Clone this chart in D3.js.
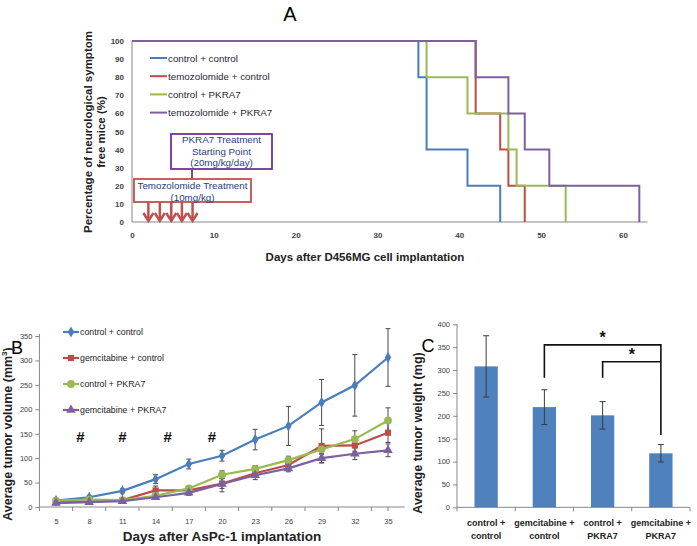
<!DOCTYPE html>
<html><head><meta charset="utf-8">
<script src="https://cdn.jsdelivr.net/npm/d3@7"></script>
<style>body{margin:0;background:#fff} text{font-family:"Liberation Sans",Arial,sans-serif}</style>
</head><body><svg id="c" width="697" height="546"></svg>
<script>
// ---------- Panel A data ----------
const seriesA = ["control + control","temozolomide + control","control + PKRA7","temozolomide + PKRA7"];
const colorsA = ["#4A7EBB","#BE4B48","#98B954","#7D60A0"];
const daysA = [[0,35,36,41,45],[0,42,45,46,48],[0,36,41,46,47,53],[0,42,46,48,51,62]];
const survA = [[100,80,40,20,0],[100,60,40,20,0],[100,80,60,40,20,0],[100,80,60,40,20,0]];
const ticksAx = [0,10,20,30,40,50,60];
const ticksAy = [0,10,20,30,40,50,60,70,80,90,100];
const tmzDays = [2,3.4,4.8,6.1,7.4];

// ---------- Panel B data ----------
const seriesB = ["control + control","gemcitabine + control","control + PKRA7","gemcitabine + PKRA7"];
const colorsB = ["#4A7EBB","#BE4B48","#98B954","#7D60A0"];
const daysB = [5,8,11,14,17,20,23,26,29,32,35];
const volCtrlCtrl = [13,20,33,57,88,105,138,166,214,249,306];
const errCtrlCtrl = [3,3,4,9,10,11,21,40,47,63,59];
const volGemCtrl = [10,13,14,34,34,48,69,86,125,126,152];
const errGemCtrl = [2,2,3,9,6,10,8,9,35,12,20];
const volCtrlPK = [13,15,14,23,38,66,78,96,118,139,177];
const errCtrlPK = [2,2,2,4,5,8,7,8,10,17,26];
const volGemPK = [8,10,12,20,29,47,65,79,100,109,116];
const errGemPK = [2,2,3,4,5,16,9,7,9,12,13];
const ticksBy = [0,50,100,150,200,250,300,350];
const hashDays = [7.2,11,15.1,19.1];

// ---------- Panel C data ----------
const groupsC = [["control +","control"],["gemcitabine +","control"],["control +","PKRA7"],["gemcitabine +","PKRA7"]];
const weightC = [308,219,201,118];
const errC = [67,38,30,19];
const ticksCy = [0,50,100,150,200,250,300,350,400];
const sigBrackets = [{from:1,to:3,top:355,left:283,right:158},{from:2,to:3,top:318,left:283,right:318}];

const svg = d3.select("#c");
const AX = "#878787";

// ================= PANEL A =================
const xA = d3.scaleLinear().domain([0,63]).range([132,647.5]);
const yA = d3.scaleLinear().domain([0,100]).range([222,41]);
const gA = svg.append("g");
gA.append("text").attr("x",290).attr("y",21).attr("text-anchor","middle").attr("font-size",20).text("A");
gA.append("line").attr("x1",xA(0)).attr("x2",xA(0)).attr("y1",yA(0)).attr("y2",yA(100)).attr("stroke",AX);
gA.append("line").attr("x1",xA(0)).attr("x2",xA(63)).attr("y1",yA(0)).attr("y2",yA(0)).attr("stroke",AX);
gA.append("g").attr("transform",`translate(0,${yA(0)})`)
  .call(d3.axisBottom(xA).tickValues(ticksAx).tickSize(0).tickPadding(10))
  .call(g=>{g.select(".domain").remove();g.selectAll("text").attr("font-size",8).attr("font-weight","bold").attr("fill","#404040").attr("font-family","Liberation Sans, Arial");});
gA.append("g").attr("transform",`translate(${xA(0)},0)`)
  .call(d3.axisLeft(yA).tickValues(ticksAy).tickSize(0).tickPadding(8))
  .call(g=>{g.select(".domain").remove();g.selectAll("text").attr("font-size",8).attr("font-weight","bold").attr("fill","#404040").attr("font-family","Liberation Sans, Arial");});
gA.append("text").attr("x",365).attr("y",261).attr("text-anchor","middle").attr("font-size",11.5).attr("font-weight","bold").attr("fill","#222").text("Days after D456MG cell implantation");
const tA = gA.append("text").attr("transform","translate(0,132) rotate(-90)").attr("text-anchor","middle").attr("font-size",11.5).attr("font-weight","bold").attr("fill","#222");
tA.append("tspan").attr("x",0).attr("y",92).text("Percentage of neurological symptom");
tA.append("tspan").attr("x",0).attr("y",105).text("free mice (%)");
const lineA = d3.line().x(d=>xA(d[0])).y(d=>yA(d[1])).curve(d3.curveStepAfter);
seriesA.forEach((s,i)=>{
  const pts = daysA[i].map((d,j)=>[d,survA[i][j]]);
  gA.append("path").attr("d",lineA(pts)).attr("fill","none").attr("stroke",colorsA[i]).attr("stroke-width",2);
});
seriesA.forEach((s,i)=>{
  const y = 58 + i*18.2;
  gA.append("line").attr("x1",150).attr("x2",167).attr("y1",y).attr("y2",y).attr("stroke",colorsA[i]).attr("stroke-width",2);
  gA.append("text").attr("x",168).attr("y",y+3.5).attr("font-size",9.8).attr("fill","#1f1f38").text(s);
});
gA.append("rect").attr("x",171).attr("y",134).attr("width",101).attr("height",35).attr("fill","#fff").attr("stroke","#7030A0").attr("stroke-width",1.8);
gA.append("line").attr("x1",192).attr("x2",192).attr("y1",169).attr("y2",179).attr("stroke","#7030A0").attr("stroke-width",1.8);
[["PKRA7 Treatment",144],["Starting Point",155.5],["(20mg/kg/day)",167]].forEach(([t,y])=>{
  gA.append("text").attr("x",221.5).attr("y",y-1).attr("text-anchor","middle").attr("font-size",9.8).attr("fill","#1F3F7D").text(t);
});
gA.append("rect").attr("x",134).attr("y",179).attr("width",117).attr("height",23).attr("fill","#fff").attr("stroke","#C0504D").attr("stroke-width",1.8);
[["Temozolomide  Treatment",189],["(10mg/kg)",200.5]].forEach(([t,y])=>{
  gA.append("text").attr("x",192.5).attr("y",y).attr("text-anchor","middle").attr("font-size",9.8).attr("fill","#1F3F7D").text(t);
});
tmzDays.forEach(d=>{
  const x = xA(d);
  gA.append("line").attr("x1",x).attr("x2",x).attr("y1",202).attr("y2",220).attr("stroke","#C0504D").attr("stroke-width",2.5);
  gA.append("path").attr("d",`M${x-5},${213}L${x},${221}L${x+5},${213}`).attr("fill","none").attr("stroke","#C0504D").attr("stroke-width",2.5);
});

// ================= PANEL B =================
const xB = d3.scaleLinear().domain([3.5,36.5]).range([39.4,404.6]);
const yB = d3.scaleLinear().domain([0,350]).range([507,336]);
const gB = svg.append("g");
gB.append("text").attr("x",17).attr("y",354).attr("text-anchor","middle").attr("font-size",18).text("B");
gB.append("line").attr("x1",xB(3.5)).attr("x2",xB(3.5)).attr("y1",yB(0)).attr("y2",yB(350)-2).attr("stroke",AX);
gB.append("line").attr("x1",xB(3.5)).attr("x2",xB(36.5)).attr("y1",yB(0)).attr("y2",yB(0)).attr("stroke",AX);
gB.append("g").attr("transform",`translate(${xB(3.5)},0)`)
  .call(d3.axisLeft(yB).tickValues(ticksBy).tickSize(4).tickPadding(3))
  .call(g=>{g.select(".domain").remove();g.selectAll("line").attr("stroke",AX);g.selectAll("text").attr("font-size",7.5).attr("fill","#404040").attr("font-family","Liberation Sans, Arial");});
gB.append("g").attr("transform",`translate(0,${yB(0)})`)
  .call(d3.axisBottom(xB).tickValues(daysB).tickSize(0).tickPadding(12))
  .call(g=>{g.select(".domain").remove();g.selectAll("text").attr("font-size",7.5).attr("fill","#404040").attr("font-family","Liberation Sans, Arial");});
daysB.concat([36.5]).forEach(d=>{
  const x = xB(d-1.5);
  gB.append("line").attr("x1",x).attr("x2",x).attr("y1",yB(0)).attr("y2",yB(0)+4).attr("stroke",AX);
});
gB.append("text").attr("x",222).attr("y",541).attr("text-anchor","middle").attr("font-size",13.5).attr("font-weight","bold").attr("fill","#222").text("Days after AsPc-1 implantation");
const tB = gB.append("text").attr("transform","translate(12,434) rotate(-90)").attr("text-anchor","middle").attr("font-size",12.5).attr("font-weight","bold").attr("fill","#222");
tB.append("tspan").text("Average tumor volume (mm");
tB.append("tspan").attr("font-size",8).attr("dy",-5).text("3");
tB.append("tspan").attr("dy",5).text(")");
hashDays.forEach(d=>{
  gB.append("text").attr("x",xB(d)).attr("y",yB(150)+8.5).attr("text-anchor","middle").attr("font-size",15).attr("font-weight","bold").attr("fill","#111").text("#");
});
const valsB = [volCtrlCtrl,volGemCtrl,volCtrlPK,volGemPK];
const errsB = [errCtrlCtrl,errGemCtrl,errCtrlPK,errGemPK];
const shapes = [d3.symbolDiamond,d3.symbolSquare,d3.symbolCircle,d3.symbolTriangle];
const sizes = [36,38,48,40];
const lineB = d3.line().x((d,i)=>xB(daysB[i])).y(d=>yB(d));
valsB.forEach((vals,k)=>{
  vals.forEach((v,i)=>{
    const x = xB(daysB[i]), e = errsB[k][i];
    const gE = gB.append("g").attr("stroke","#4a4a4a").attr("stroke-width",1);
    gE.append("line").attr("x1",x).attr("x2",x).attr("y1",yB(v-e)).attr("y2",yB(v+e));
    gE.append("line").attr("x1",x-2.5).attr("x2",x+2.5).attr("y1",yB(v-e)).attr("y2",yB(v-e));
    gE.append("line").attr("x1",x-2.5).attr("x2",x+2.5).attr("y1",yB(v+e)).attr("y2",yB(v+e));
  });
});
valsB.forEach((vals,k)=>{
  gB.append("path").attr("d",lineB(vals)).attr("fill","none").attr("stroke",colorsB[k]).attr("stroke-width",2.2);
  vals.forEach((v,i)=>{
    gB.append("path").attr("d",d3.symbol(shapes[k],sizes[k])()).attr("transform",`translate(${xB(daysB[i])},${yB(v)})`).attr("fill",colorsB[k]);
  });
});
seriesB.forEach((s,i)=>{
  const y = 332 + i*26;
  gB.append("line").attr("x1",63).attr("x2",79).attr("y1",y).attr("y2",y).attr("stroke",colorsB[i]).attr("stroke-width",2.2);
  gB.append("path").attr("d",d3.symbol(shapes[i],sizes[i])()).attr("transform",`translate(71,${y})`).attr("fill",colorsB[i]);
  gB.append("text").attr("x",80).attr("y",y+3.2).attr("font-size",8.8).attr("fill","#222").text(s);
});

// ================= PANEL C =================
const xC = d3.scaleBand().domain(d3.range(groupsC.length)).range([457,690]).paddingInner(0.6).paddingOuter(0.3);
const yC = d3.scaleLinear().domain([0,400]).range([507.3,324.3]);
const gC = svg.append("g");
gC.append("text").attr("x",428).attr("y",352).attr("text-anchor","middle").attr("font-size",18).text("C");
gC.append("line").attr("x1",457).attr("x2",457).attr("y1",yC(0)).attr("y2",yC(400)).attr("stroke",AX);
gC.append("line").attr("x1",457).attr("x2",690).attr("y1",yC(0)).attr("y2",yC(0)).attr("stroke",AX);
gC.append("g").attr("transform","translate(457,0)")
  .call(d3.axisLeft(yC).tickValues(ticksCy).tickSize(4).tickPadding(3))
  .call(g=>{g.select(".domain").remove();g.selectAll("line").attr("stroke",AX);g.selectAll("text").attr("font-size",7.5).attr("fill","#404040").attr("font-family","Liberation Sans, Arial");});
const stepC = xC.step();
d3.range(groupsC.length+1).forEach(i=>{
  const x = 457 + i*stepC;
  gC.append("line").attr("x1",x).attr("x2",x).attr("y1",yC(0)).attr("y2",yC(0)+4).attr("stroke",AX);
});
weightC.forEach((v,i)=>{
  gC.append("rect").attr("x",xC(i)).attr("y",yC(v)).attr("width",xC.bandwidth()).attr("height",yC(0)-yC(v)).attr("fill","#4F81BD");
  const cx = xC(i)+xC.bandwidth()/2, e = errC[i];
  const gE = gC.append("g").attr("stroke","#3a3a3a").attr("stroke-width",1);
  gE.append("line").attr("x1",cx).attr("x2",cx).attr("y1",yC(v-e)).attr("y2",yC(v+e));
  gE.append("line").attr("x1",cx-3).attr("x2",cx+3).attr("y1",yC(v-e)).attr("y2",yC(v-e));
  gE.append("line").attr("x1",cx-3).attr("x2",cx+3).attr("y1",yC(v+e)).attr("y2",yC(v+e));
  groupsC[i].forEach((t,j)=>{
    gC.append("text").attr("x",cx).attr("y",525.5+j*13).attr("text-anchor","middle").attr("font-size",9).attr("font-weight","bold").attr("fill","#222").text(t);
  });
});
sigBrackets.forEach(b=>{
  const x1 = xC(b.from)+xC.bandwidth()/2, x2 = xC(b.to)+xC.bandwidth()/2;
  gC.append("path").attr("d",`M${x1},${yC(b.left)}V${yC(b.top)}H${x2}V${yC(b.right)}`).attr("fill","none").attr("stroke","#111").attr("stroke-width",1.6);
  gC.append("text").attr("x",(x1+x2)/2).attr("y",yC(b.top)-2).attr("text-anchor","middle").attr("font-size",16).attr("font-weight","bold").attr("fill","#111").text("*");
});
gC.append("text").attr("transform","translate(422,433) rotate(-90)").attr("text-anchor","middle").attr("font-size",12.5).attr("font-weight","bold").attr("fill","#222").text("Average tumor weight (mg)");
</script></body></html>
